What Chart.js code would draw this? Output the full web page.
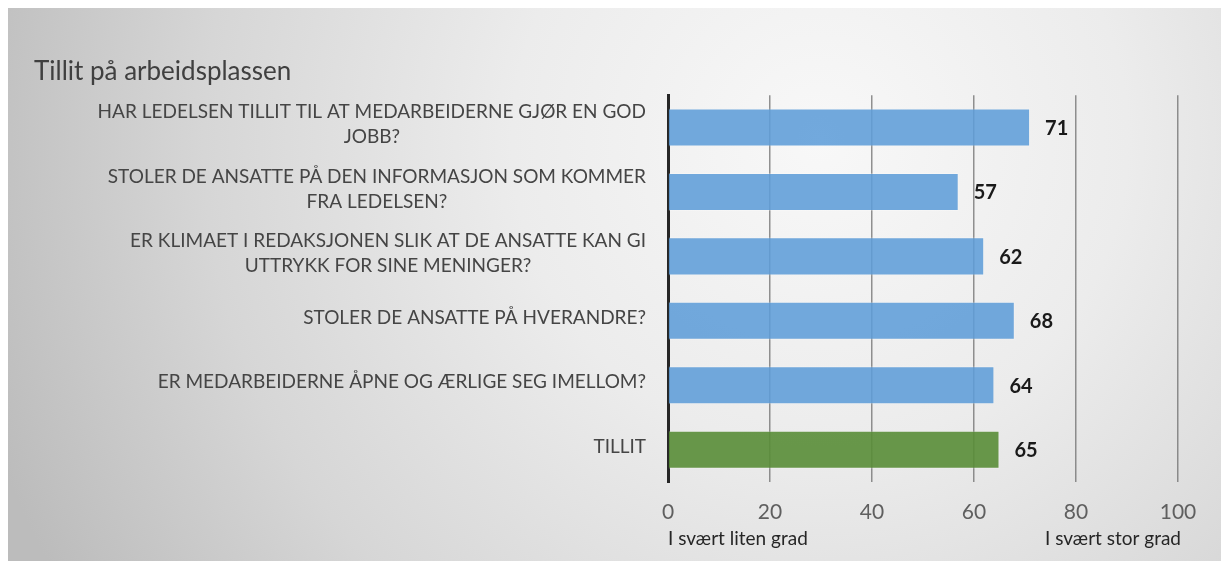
<!DOCTYPE html>
<html>
<head>
<meta charset="utf-8">
<script src="https://cdn.jsdelivr.net/npm/chart.js@4/dist/chart.umd.min.js"></script>
<style>
  html, body { margin: 0; padding: 0; background: #ffffff; }
  #wrap { width: 1221px; height: 561px; position: relative; }
</style>
</head>
<body>
<div id="wrap"><canvas id="c" width="1221" height="561"></canvas></div>
<script>
const chartTitle = "Tillit på arbeidsplassen";
const categories = [
  ["HAR LEDELSEN TILLIT TIL AT MEDARBEIDERNE GJØR EN GOD", "JOBB?"],
  ["STOLER DE ANSATTE PÅ DEN INFORMASJON SOM KOMMER", "FRA LEDELSEN?"],
  ["ER KLIMAET I REDAKSJONEN SLIK AT DE ANSATTE KAN GI", "UTTRYKK FOR SINE MENINGER?"],
  ["STOLER DE ANSATTE PÅ HVERANDRE?"],
  ["ER MEDARBEIDERNE ÅPNE OG ÆRLIGE SEG IMELLOM?"],
  ["TILLIT"]
];
const values = [71, 57, 62, 68, 64, 65];
const xTicks = [0, 20, 40, 60, 80, 100];
const scaleEndLabels = ["I svært liten grad", "I svært stor grad"];
const barColors = ["rgba(95,157,216,0.88)", "rgba(95,157,216,0.88)", "rgba(95,157,216,0.88)",
                   "rgba(95,157,216,0.88)", "rgba(95,157,216,0.88)", "rgba(89,141,55,0.9)"];

const FONT = "Lato, 'Open Sans', sans-serif";

const bgPlugin = {
  id: 'bg',
  beforeDraw(chart) {
    const ctx = chart.ctx;
    ctx.save();
    ctx.fillStyle = '#ffffff';
    ctx.fillRect(0, 0, chart.width, chart.height);
    const g = ctx.createRadialGradient(820, 140, 0, 820, 140, 880);
    g.addColorStop(0, '#f8f8f8');
    g.addColorStop(0.35, '#ececec');
    g.addColorStop(0.7, '#d6d6d6');
    g.addColorStop(1, '#bcbcbc');
    ctx.fillStyle = g;
    ctx.fillRect(8, 8, chart.width - 8, chart.height - 8);
    ctx.restore();
  }
};

const labelsPlugin = {
  id: 'catLabels',
  afterDraw(chart) {
    const ctx = chart.ctx;
    const y = chart.scales.y;
    const x = chart.scales.x;
    ctx.save();
    // category labels: block right-aligned, lines centered
    ctx.font = "19px " + FONT;
    ctx.fillStyle = '#454545';
    ctx.textBaseline = 'middle';
    ctx.textAlign = 'center';
    const right = chart.chartArea.left - 22;
    const lh = 25;
    categories.forEach((lines, i) => {
      const cy = y.getPixelForValue(i) - 3;
      const maxW = Math.max(...lines.map(l => ctx.measureText(l).width));
      const cx = right - maxW / 2;
      const y0 = cy - (lines.length - 1) * lh / 2;
      lines.forEach((l, k) => ctx.fillText(l, cx, y0 + k * lh));
    });
    // value labels
    ctx.font = "bold 20px " + FONT;
    ctx.fillStyle = '#1a1a1a';
    ctx.textAlign = 'left';
    const meta = chart.getDatasetMeta(0);
    meta.data.forEach((bar, i) => {
      ctx.fillText(String(values[i]), bar.x + 15, bar.y + 1);
    });
    // end labels under the axis
    ctx.font = "19px " + FONT;
    ctx.fillStyle = '#262626';
    ctx.textAlign = 'left';
    ctx.fillText(scaleEndLabels[0], x.getPixelForValue(xTicks[0]), 539);
    ctx.textAlign = 'right';
    ctx.fillText(scaleEndLabels[1], x.getPixelForValue(xTicks[xTicks.length - 1]) + 3, 539);
    ctx.restore();
  }
};

new Chart(document.getElementById('c'), {
  type: 'bar',
  data: {
    labels: categories,
    datasets: [{
      data: values,
      backgroundColor: barColors,
      borderColor: 'rgba(255,255,255,0.25)',
      borderWidth: 1,
      barPercentage: 0.59,
      categoryPercentage: 1.0
    }]
  },
  options: {
    indexAxis: 'y',
    responsive: false,
    animation: false,
    devicePixelRatio: 1,
    layout: { padding: { left: 34, right: 43, top: 8, bottom: 0 } },
    plugins: {
      legend: { display: false },
      tooltip: { enabled: false },
      title: {
        display: true,
        text: chartTitle,
        align: 'start',
        color: '#404040',
        font: { family: FONT, size: 26, weight: 'normal' },
        padding: { top: 48, bottom: 8 }
      }
    },
    scales: {
      x: {
        min: 0,
        max: 100,
        afterBuildTicks(scale) { scale.ticks = xTicks.map(v => ({ value: v })); },
        afterFit(scale) { scale.height = 79; },
        ticks: {
          color: '#5f5f5f',
          font: { family: FONT, size: 21 },
          padding: 18,
          maxRotation: 0
        },
        grid: {
          drawTicks: false,
          color: (c) => c.index === 0 ? 'rgba(0,0,0,0)' : 'rgba(110,110,110,0.75)',
          lineWidth: 1.5
        },
        border: { display: false }
      },
      y: {
        afterFit(scale) { scale.width = 634; },
        ticks: { display: false },
        grid: { display: false, drawTicks: false },
        border: { display: true, color: '#262626', width: 3 }
      }
    }
  },
  plugins: [bgPlugin, labelsPlugin]
});
</script>
</body>
</html>
